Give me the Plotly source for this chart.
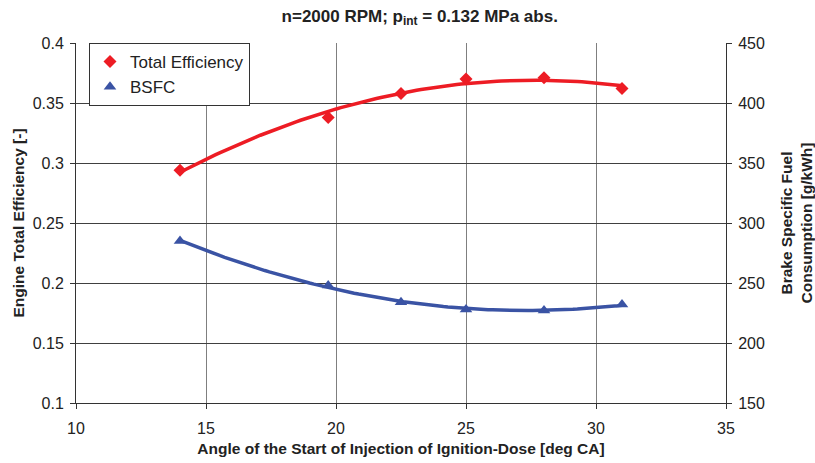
import numpy as np
import plotly.graph_objects as go

angle = [14, 19.7, 22.5, 25, 28, 31]
total_eff = [0.294, 0.338, 0.358, 0.370, 0.371, 0.362]
bsfc = [285, 248, 234, 228, 227, 232]

x_ticks = [10, 15, 20, 25, 30, 35]
y_left_ticks = [0.1, 0.15, 0.2, 0.25, 0.3, 0.35, 0.4]
y_right_ticks = [150, 200, 250, 300, 350, 400, 450]

RED = "#ED1C24"
BLUE = "#3A53A4"
FONT = "Liberation Sans, Arial, sans-serif"

# 2nd-order polynomial trendlines (as in the original spreadsheet)
xs = np.linspace(min(angle), max(angle), 100)
eff_fit = np.polyval(np.polyfit(angle, total_eff, 2), xs)
bsfc_fit = np.polyval(np.polyfit(angle, bsfc, 2), xs)

fig = go.Figure()
fig.add_trace(go.Scatter(x=xs, y=eff_fit, mode="lines", line=dict(color=RED, width=3.5),
                         showlegend=False, hoverinfo="skip"))
fig.add_trace(go.Scatter(x=xs, y=bsfc_fit, mode="lines", line=dict(color=BLUE, width=3.5),
                         showlegend=False, hoverinfo="skip", yaxis="y2"))
fig.add_trace(go.Scatter(x=angle, y=total_eff, mode="markers", name="Total Efficiency",
                         marker=dict(symbol="diamond", color=RED, size=10)))
fig.add_trace(go.Scatter(x=angle, y=bsfc, mode="markers", name="BSFC", yaxis="y2",
                         marker=dict(symbol="triangle-up", color=BLUE, size=11)))

fig.update_layout(
    width=815, height=463,
    margin=dict(l=76, r=89, t=43, b=60),
    paper_bgcolor="white", plot_bgcolor="white",
    font=dict(family=FONT, size=16, color="#222"),
    title=dict(text="<b>n=2000 RPM; p<sub>int</sub> = 0.132 MPa abs.</b>",
               x=0.515, xanchor="center", y=0.966, yanchor="middle",
               font=dict(size=17, family=FONT, color="#222")),
    xaxis=dict(range=[10, 35], tickvals=x_ticks, ticks="outside", ticklen=5,
               tickcolor="#333", showline=True, linecolor="#333", linewidth=1,
               showgrid=True, gridcolor="#7f7f7f", gridwidth=1, zeroline=False,
               tickfont=dict(size=16), ticklabelstandoff=6, automargin=False,
               title=dict(text="<b>Angle of the Start of Injection of Ignition-Dose [deg CA]</b>",
                          font=dict(size=15.5), standoff=6)),
    yaxis=dict(range=[0.1, 0.4], tickvals=y_left_ticks,
               ticktext=[("%g" % v) for v in y_left_ticks],
               ticks="outside", ticklen=5, tickcolor="#333",
               showline=True, linecolor="#333", linewidth=1,
               showgrid=True, gridcolor="#404040", gridwidth=1, zeroline=False,
               tickfont=dict(size=16), ticklabelstandoff=3, automargin=False,
               title=dict(text="<b>Engine Total Efficiency [-]</b>", font=dict(size=15.5), standoff=4)),
    yaxis2=dict(range=[150, 450], tickvals=y_right_ticks, overlaying="y", side="right",
                ticks="outside", ticklen=5, tickcolor="#333",
                showline=True, linecolor="#333", linewidth=1, showgrid=False, zeroline=False,
                tickfont=dict(size=16), ticklabelstandoff=3, automargin=False,
                title=dict(text="<b>Brake Specific Fuel<br>Consumption [g/kWh]</b>",
                           font=dict(size=15.5), standoff=17)),
    legend=dict(x=0.02, y=1.0, xanchor="left", yanchor="top",
                bgcolor="white", bordercolor="#333", borderwidth=1,
                font=dict(size=17), tracegroupgap=0, itemwidth=30),
    showlegend=True,
)

fig.write_html("out.html")
